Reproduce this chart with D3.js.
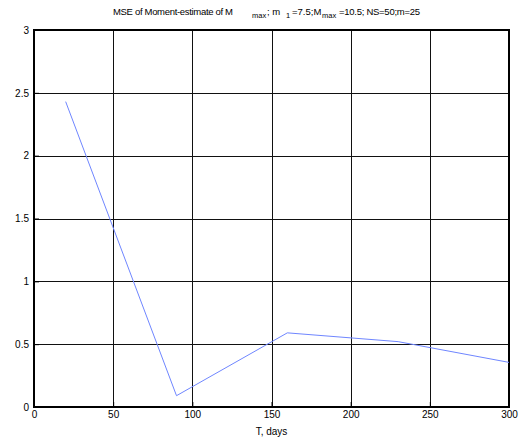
<!DOCTYPE html>
<html>
<head>
<meta charset="utf-8">
<script src="https://cdn.jsdelivr.net/npm/d3@7"></script>
<style>
  html, body { margin: 0; padding: 0; background: #fff; }
  svg { display: block; font-family: "Liberation Sans", Arial, Helvetica, sans-serif; }
</style>
</head>
<body>
<svg id="chart" width="525" height="448"></svg>
<script>
// Observation window length (days) and the MSE of the moment estimate
const days = [20, 90, 160, 230, 300];
const mse = [2.43, 0.09, 0.59, 0.52, 0.355];
const xTicks = [0, 50, 100, 150, 200, 250, 300];
const yTicks = [0, 0.5, 1, 1.5, 2, 2.5, 3];

const svg = d3.select("#chart");
const plotLeft = 34, plotRight = 509, plotTop = 30, plotBottom = 407;

const x = d3.scaleLinear().domain([0, 300]).range([plotLeft, plotRight]);
const y = d3.scaleLinear().domain([0, 3]).range([plotBottom, plotTop]);

// grid
const grid = svg.append("g").attr("stroke", "#111").attr("stroke-width", 1).attr("shape-rendering", "crispEdges");
grid.selectAll(".gx").data(xTicks.slice(1, -1)).enter().append("line")
  .attr("x1", d => Math.round(x(d)) + 0.5).attr("x2", d => Math.round(x(d)) + 0.5)
  .attr("y1", plotTop).attr("y2", plotBottom);
grid.selectAll(".gy").data(yTicks.slice(1, -1)).enter().append("line")
  .attr("y1", d => Math.round(y(d)) + 0.5).attr("y2", d => Math.round(y(d)) + 0.5)
  .attr("x1", plotLeft).attr("x2", plotRight);

// axes with ticks pointing inward
const xAxis = d3.axisBottom(x).tickValues(xTicks).tickSize(-5).tickPadding(4).tickFormat(d3.format("d"));
const yAxis = d3.axisLeft(y).tickValues(yTicks).tickSize(-5).tickPadding(5).tickFormat(d => d);

const gx = svg.append("g").attr("transform", `translate(0,${plotBottom})`).call(xAxis);
const gy = svg.append("g").attr("transform", `translate(${plotLeft},0)`).call(yAxis);
[gx, gy].forEach(g => {
  g.select(".domain").remove();
  g.selectAll(".tick line").attr("stroke", "#000");
  g.selectAll(".tick text").attr("fill", "#000").attr("font-size", 10)
    .attr("font-family", "\"Liberation Sans\", Arial, sans-serif");
});

// frame
svg.append("rect")
  .attr("x", plotLeft).attr("y", plotTop)
  .attr("width", plotRight - plotLeft).attr("height", plotBottom - plotTop)
  .attr("fill", "none").attr("stroke", "#000").attr("stroke-width", 2);

// data line
const line = d3.line().x((d, i) => x(days[i])).y(d => y(d));
svg.append("path")
  .datum(mse)
  .attr("d", line)
  .attr("fill", "none")
  .attr("stroke", "#6f86ff")
  .attr("stroke-width", 1);

// x label
svg.append("text")
  .attr("x", (plotLeft + plotRight) / 2).attr("y", 435)
  .attr("text-anchor", "middle").attr("font-size", 10)
  .text("T, days");

// title with subscripts, each run placed explicitly
const title = svg.append("text").attr("y", 15).attr("font-size", 9.5);
title.append("tspan").attr("x", 113).attr("textLength", 120).text("MSE of Moment-estimate of M");
title.append("tspan").attr("x", 252).attr("y", 18).attr("font-size", 7.5).text("max");
title.append("tspan").attr("x", 267).attr("y", 15).text("; m");
title.append("tspan").attr("x", 286).attr("y", 18).attr("font-size", 7.5).text("1");
title.append("tspan").attr("x", 292).attr("y", 15).text("=7.5;M");
title.append("tspan").attr("x", 322).attr("y", 18).attr("font-size", 7.5).text("max");
title.append("tspan").attr("x", 339).attr("y", 15).attr("textLength", 81).text("=10.5; NS=50;m=25");
</script>
</body>
</html>
